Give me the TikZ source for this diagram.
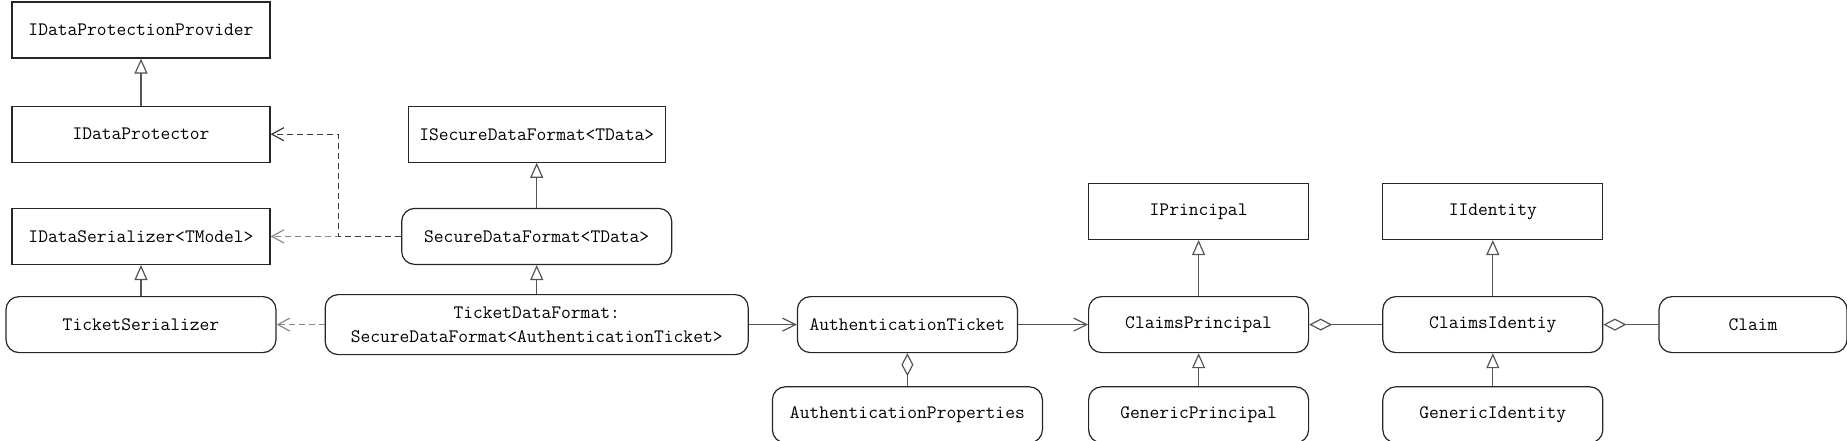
\documentclass[tikz,border=0pt]{standalone}
\usetikzlibrary{arrows.meta, positioning}
\definecolor{umlline}{HTML}{555555}
\definecolor{umlbox}{HTML}{262626}
\definecolor{depgray}{HTML}{8A8A8A}
\definecolor{depdark}{HTML}{3C3C3C}
\newcommand{\umlfont}{\fontsize{19}{24}\selectfont\ttfamily}
\tikzset{
  % Interface boxes
  iface/.style={
    rectangle, draw=umlbox, line width=1.2pt,
    minimum width=#1, minimum height=56pt, inner sep=0pt,
    font=\umlfont, align=center,
  },
  iface/.default={220pt},
  % Class boxes
  klass/.style={iface=#1, rounded corners=13pt},
  klass/.default={220pt},
  % Generalisation
  inherit/.style={-{Triangle[open, length=15pt, width=13pt]}, line width=1.2pt, draw=umlline},
  % Association
  assoc/.style={-{Straight Barb[length=13pt, width=13pt]}, line width=1.2pt, draw=umlline},
  % Aggregation
  aggr/.style={{Diamond[open, length=23pt, width=12pt]}-, line width=1.2pt, draw=umlline},
  % Dependency
  depend/.style={-{Straight Barb[length=12pt, width=13pt]}, dash pattern=on 6pt off 4pt,
    line width=1.2pt, draw=#1},
  depend/.default={depgray},
}

\begin{document}
\begin{tikzpicture}[node distance=33pt and 48pt]
  \useasboundingbox (0,0) rectangle (1847pt,-440pt);

  % Data protection
  \node[iface=258pt] (prov) at (141pt,-30pt) {IDataProtectionProvider};
  \node[iface=258pt, below=47pt of prov] (prot) {IDataProtector};
  \node[iface=258pt, below=45pt of prot] (ser) {IDataSerializer<TModel>};
  \node[klass=270pt, below=31pt of ser] (tser) {TicketSerializer};

  % Data formats
  \node[klass=423pt, minimum height=60pt, right=48pt of tser] (tdf) {
    TicketDataFormat:\\SecureDataFormat<AuthenticationTicket>
  };
  \node[klass=270pt, above=29pt of tdf] (sdf) {SecureDataFormat<TData>};
  \node[iface=257pt, above=45pt of sdf] (isdf) {ISecureDataFormat<TData>};

  % Ticket and claims
  \node[klass, right=of tdf] (ticket) {AuthenticationTicket};
  \node[klass=270pt, below=of ticket] (props) {AuthenticationProperties};
  \node[klass, right=70pt of ticket] (cprin) {ClaimsPrincipal};
  \node[iface, above=56pt of cprin] (iprin) {IPrincipal};
  \node[klass, below=of cprin] (gprin) {GenericPrincipal};
  \node[klass, right=73pt of cprin] (cid) {ClaimsIdentiy};
  \node[iface, above=56pt of cid] (iid) {IIdentity};
  \node[klass, below=of cid] (gid) {GenericIdentity};
  \node[klass=188pt, right=55pt of cid] (claim) {Claim};

  % Generalisation
  \draw[inherit] (prot) -- (prov);
  \draw[inherit] (tser) -- (ser);
  \draw[inherit] (sdf) -- (isdf);
  \draw[inherit] (tdf) -- (sdf);
  \draw[inherit] (cprin) -- (iprin);
  \draw[inherit] (gprin) -- (cprin);
  \draw[inherit] (cid) -- (iid);
  \draw[inherit] (gid) -- (cid);

  % Dependencies
  \draw[depend] (sdf) -- (ser);
  \draw[depend=depdark] (sdf.west) -- ++(-63pt,0) |- (prot.east);
  \draw[depend] (tdf) -- (tser);

  % Associations and aggregations
  \draw[assoc] (tdf) -- (ticket);
  \draw[assoc] (ticket) -- (cprin);
  \draw[aggr] (ticket) -- (props);
  \draw[aggr] (cprin) -- (cid);
  \draw[aggr] (cid) -- (claim);

\end{tikzpicture}
\end{document}
